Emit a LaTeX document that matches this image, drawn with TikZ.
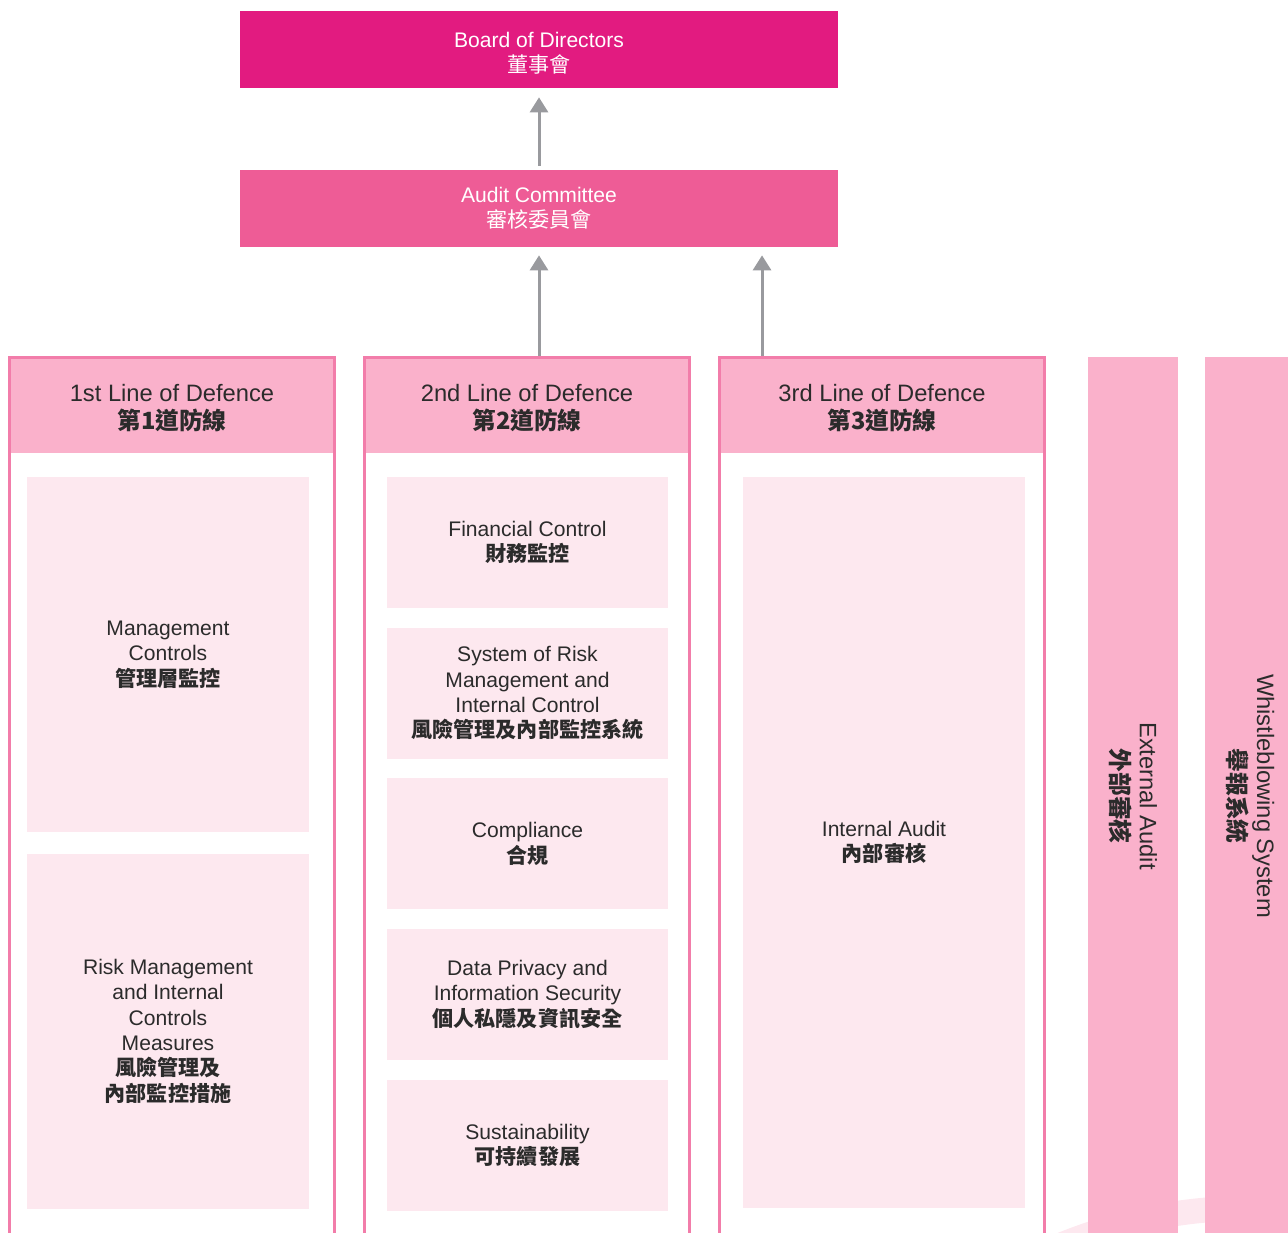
\documentclass[tikz,border=0pt]{standalone}
\usepackage{fontspec}
\setmainfont{Liberation Sans}
\newfontfamily\cjk{Noto Sans CJK TC}
\usetikzlibrary{shapes,arrows.meta,positioning}
\definecolor{boardpink}{HTML}{E21B80}
\definecolor{acpink}{HTML}{EE5C96}
\definecolor{hdrpink}{HTML}{FAB1CB}
\definecolor{boxpink}{HTML}{FDE8EF}
\definecolor{edgepink}{HTML}{F27DAA}
\definecolor{arrowgray}{HTML}{999A9E}
\definecolor{txtgray}{HTML}{2B2B2B}
\newcommand{\zhbold}[1]{{\cjk\bfseries #1}}
\tikzstyle{topbox} = [rectangle, text=white, align=center, minimum width=11.96cm, minimum height=1.54cm, inner sep=0pt, text height=26.8pt, font=\fontsize{12}{14.2}\selectfont]
\tikzstyle{header} = [rectangle, fill=hdrpink, text=txtgray, align=center, minimum width=6.56cm, minimum height=1.94cm, inner sep=0pt, text height=30.2pt, font=\fontsize{13.5}{16}\selectfont]
\tikzstyle{frame} = [rectangle, draw=edgepink, line width=0.06cm, minimum width=6.5cm, minimum height=17.85cm, inner sep=0pt]
\tikzstyle{block} = [rectangle, fill=boxpink, text=txtgray, align=center, inner sep=0pt, minimum width=5.62cm, font=\fontsize{12}{14.4}\selectfont]
\tikzstyle{bar} = [rectangle, fill=hdrpink, text=txtgray, align=center, rotate=-90, minimum width=17.56cm, minimum height=1.8cm, inner sep=0pt, font=\fontsize{13.5}{16.4}\selectfont]
\tikzstyle{line} = [draw=arrowgray, line width=0.06cm, -{Triangle[width=0.36cm,length=0.3cm]}]
\begin{document}
\begin{tikzpicture}[x=0.02cm,y=-0.02cm]
  \useasboundingbox (0,0) rectangle (1288,1232);
  % faint ring behind the bars
  \draw[boxpink, line width=0.5cm] (1250,1708) circle[radius=10cm];

  \node [topbox, fill=boardpink] (board) at (539,49.5) {Board of Directors\\{\cjk 董事會}};
  \node [topbox, fill=acpink, text height=22.3pt] (audit) at (539,208.5) {Audit Committee\\{\cjk 審核委員會}};

  % three lines of defence
  \node [header] (hdr1) at (172,404.5) {1st Line of Defence\\\zhbold{第1道防線}};
  \node [frame] (col1) at (172,803.75) {};
  \node [header] (hdr2) at (527,404.5) {2nd Line of Defence\\\zhbold{第2道防線}};
  \node [frame] (col2) at (527,803.75) {};
  \node [header] (hdr3) at (882,404.5) {3rd Line of Defence\\\zhbold{第3道防線}};
  \node [frame] (col3) at (882,803.75) {};

  \node [block, minimum width=5.64cm, minimum height=7.1cm] (mgmt) at (168,654.5) {Management\\Controls\\\zhbold{管理層監控}};
  \node [block, minimum width=5.64cm, minimum height=7.1cm, below=0.42cm of mgmt] (riskm) {Risk Management\\and Internal\\Controls\\Measures\\\zhbold{風險管理及}\\\zhbold{內部監控措施}};

  \node [block, minimum height=2.62cm] (fin) at (527.5,542.5) {Financial Control\\\zhbold{財務監控}};
  \node [block, minimum height=2.62cm, below=0.38cm of fin] (rmic) {System of Risk\\Management and\\Internal Control\\\zhbold{風險管理及內部監控系統}};
  \node [block, minimum height=2.62cm, below=0.38cm of rmic] (comp) {Compliance\\\zhbold{合規}};
  \node [block, minimum height=2.62cm, below=0.38cm of comp] (priv) {Data Privacy and\\Information Security\\\zhbold{個人私隱及資訊安全}};
  \node [block, minimum height=2.62cm, below=0.38cm of priv] (sust) {Sustainability\\\zhbold{可持續發展}};

  \node [block, minimum width=5.64cm, minimum height=14.62cm] (ia) at (884,842.5) {Internal Audit\\\zhbold{內部審核}};

  \node [bar] (ext) at (1133,796) {External Audit\\\zhbold{外部審核}};
  \node [bar] (whistle) at (1250,796) {Whistleblowing System\\\zhbold{舉報系統}};

  % reporting arrows
  \coordinate (up3) at ([xshift=-2.4cm]hdr3.north);
  \path [line, shorten <=0.08cm, shorten >=0.18cm] (audit.north) -- (board.south);
  \path [line, shorten >=0.16cm] (hdr2.north -| audit.south) -- (audit.south);
  \path [line, shorten >=0.16cm] (up3) -- (up3 |- audit.south);
\end{tikzpicture}
\end{document}
